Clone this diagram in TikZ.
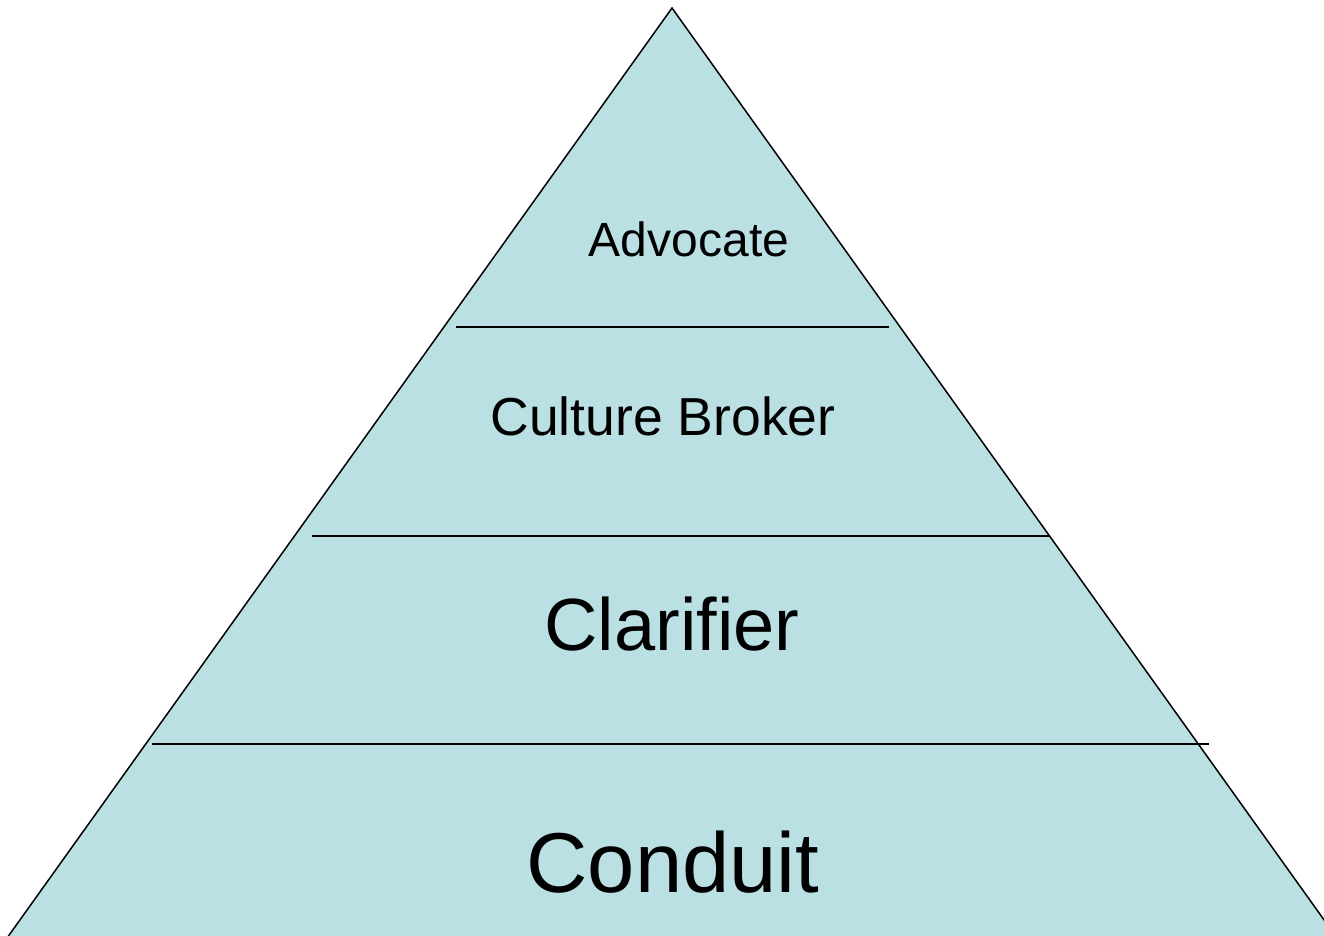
\documentclass[tikz,border=0pt]{standalone}
\usepackage{fontspec}
\setmainfont{Liberation Sans}
\definecolor{pyr}{RGB}{186,224,228}
\begin{document}
\begin{tikzpicture}[x=1pt,y=-1pt,
  edge/.style={line width=1.5pt, black},
  tier/.style={line width=1.7pt, black},
  lbl/.style={anchor=base, inner sep=0pt}]
\useasboundingbox (0,0) rectangle (1324,935);
\clip (0,0) rectangle (1324,935);
\coordinate (apex) at (672,8);
\coordinate (bl) at (2,945);
\coordinate (br) at (1342,945);
\fill[pyr] (bl) -- (apex) -- (br) -- cycle;
\draw[edge, line join=miter] (bl) -- (apex) -- (br);
% tier separators
\coordinate (t1l) at (456,327);
\coordinate (t1r) at (889,327);
\coordinate (t2l) at (312,536);
\coordinate (t2r) at (1049,536);
\coordinate (t3l) at (152,744);
\coordinate (t3r) at (1209,744);
\draw[tier] (t1l) -- (t1r);
\draw[tier] (t2l) -- (t2r);
\draw[tier] (t3l) -- (t3r);
% labels
\node[lbl, font=\fontsize{48}{50}\selectfont] (advocate) at (689,256) {Advocate};
\node[lbl, font=\fontsize{53.5}{55}\selectfont] (broker) at (663,435) {Culture Broker};
\node[lbl, font=\fontsize{74}{76}\selectfont] (clarifier) at (672,650) {Clarifier};
\node[lbl, font=\fontsize{85}{87}\selectfont] (conduit) at (673,892) {Conduit};
\end{tikzpicture}
\end{document}
